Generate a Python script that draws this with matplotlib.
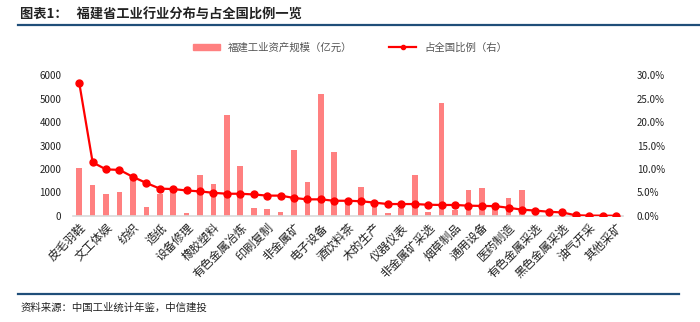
import numpy as np
import matplotlib
matplotlib.use("Agg")
import matplotlib.pyplot as plt
from matplotlib.lines import Line2D
from matplotlib.patches import Patch

plt.rcParams['font.family'] = ['Noto Sans CJK SC', 'DejaVu Sans']

# 只标注了偶数位置的行业名
labels = ['皮毛羽鞋', '文工体娱', '纺织', '造纸', '设备修理', '橡胶塑料', '有色金属冶炼',
          '印刷复制', '非金属矿', '电子设备', '酒饮料茶', '木的生产', '仪器仪表',
          '非金属矿采选', '烟草制品', '通用设备', '医药制造', '有色金属采选',
          '黑色金属采选', '油气开采', '其他采矿']

# 福建工业资产规模（亿元）
assets = [2020, 1320, 940, 1000, 1650, 385, 930, 1150, 130, 1740,
          1340, 4300, 2110, 320, 290, 145, 2810, 1430, 5190, 2740,
          600, 1230, 550, 100, 320, 1740, 160, 4830, 245, 1100,
          1180, 400, 750, 1100, 150, 110, 90, 30, 20, 10, 5]

# 占全国比例（%）
ratio = [28.4, 11.4, 9.9, 9.8, 8.3, 7.0, 5.8, 5.7, 5.4, 5.2,
         4.9, 4.7, 4.7, 4.55, 4.3, 4.3, 3.8, 3.5, 3.5, 3.2,
         3.2, 3.1, 2.8, 2.5, 2.5, 2.5, 2.35, 2.3, 2.3, 2.15,
         2.1, 2.05, 1.7, 1.3, 1.1, 0.85, 0.7, 0.1, 0.03, 0.02, 0.0]

x = np.arange(len(assets))

fig = plt.figure(figsize=(7, 3.22), dpi=100)
ax = fig.add_axes([0.1036, 0.330, 0.786, 0.436])
ax2 = ax.twinx()

bar_color = '#FF8080'
ax.bar(x, assets, width=0.42, color=bar_color, zorder=2)
ax2.plot(x, ratio, color='#FF0000', lw=1.6, marker='o', ms=5, zorder=3)

ax.set_xlim(-0.5, len(x) - 0.5)
ax.set_ylim(0, 6000)
ax.set_yticks(range(0, 6001, 1000))
ax2.set_ylim(0, 30)
ax2.set_yticks(range(0, 31, 5))
ax2.set_yticklabels(['%.1f%%' % v for v in range(0, 31, 5)])

ax.set_xticks(x[::2])
ax.set_xticklabels(labels, rotation=45, ha='right', rotation_mode='anchor',
                   fontsize=8.5, color='#111111')
for a in (ax, ax2):
    for s in a.spines.values():
        s.set_visible(False)
    a.tick_params(length=0, labelsize=7, colors='#222222')
ax.spines['bottom'].set_visible(True)
ax.spines['bottom'].set_color('#D9D9D9')
ax.spines['bottom'].set_linewidth(1.2)
ax.tick_params(axis='x', pad=4, labelsize=8.5)
ax.tick_params(axis='y', pad=8)
ax2.tick_params(axis='y', pad=10)
ax.set_zorder(ax2.get_zorder() - 1)
ax2.patch.set_visible(False)

handles = [Patch(color=bar_color),
           Line2D([], [], color='#FF0000', lw=1.6, marker='o', ms=3)]
fig.legend(handles, ['福建工业资产规模（亿元）', '占全国比例（右）'],
           loc='center', bbox_to_anchor=(0.5, 0.853), ncol=2, frameon=False,
           fontsize=7.5, columnspacing=3.5, handlelength=2.6, handleheight=0.6,
           labelcolor='#555555')

# 标题和来源
fig.text(0.029, 0.953, '图表1：   福建省工业行业分布与占全国比例一览',
         fontsize=9.5, fontweight='bold', color='#222222', va='center')
fig.add_artist(Line2D([0.026, 1.0], [0.922, 0.922], color='#1F4E79', lw=1.6))
fig.add_artist(Line2D([0.026, 0.97], [0.087, 0.087], color='#1F4E79', lw=1.6))
fig.text(0.029, 0.045, '资料来源：中国工业统计年鉴，中信建投', fontsize=7.5,
         style='italic', color='#222222', va='center')

fig.savefig('out.png', dpi=100)
